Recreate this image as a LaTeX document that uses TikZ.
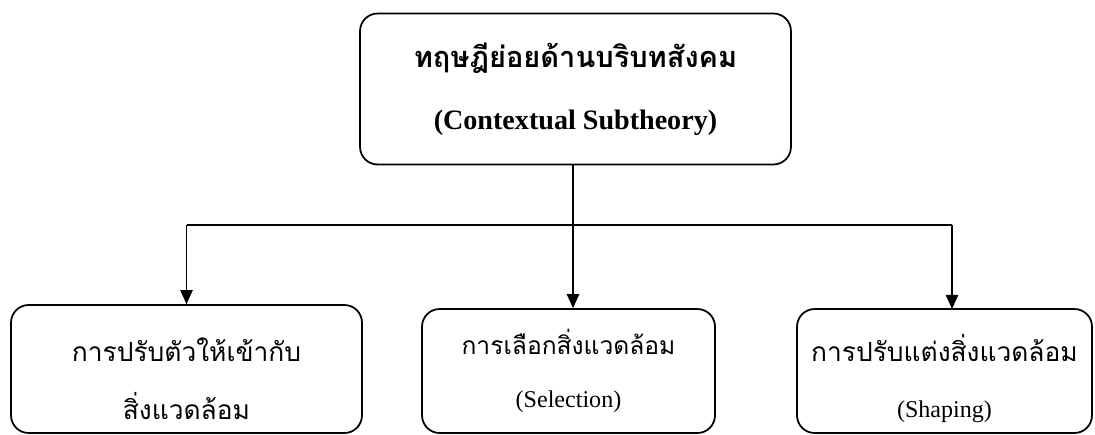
\documentclass[tikz,border=0pt]{standalone}
\usepackage{fontspec}
\setmainfont{Liberation Serif}
\newfontfamily\thaifont[Script=Thai]{Loma}
\usetikzlibrary{arrows.meta}
\tikzset{
  box/.style={draw, line width=1pt, rounded corners=10pt, align=center, inner sep=0pt},
  link/.style={line width=0.9pt, -{Triangle[width=7pt,length=8pt]}},
  bus/.style={line width=0.9pt}
}
\begin{document}
\begin{tikzpicture}[x=0.02cm,y=-0.02cm]
\useasboundingbox (0,0) rectangle (1095,434);
% theory box
\node[box, minimum width=8.62cm, minimum height=3.02cm,
  font=\fontsize{16}{35}\selectfont\bfseries] (theory) at (575.5,89)
  {{\thaifont\fontsize{16.5}{35}\selectfont\bfseries ทฤษฎีย่อยด้านบริบทสังคม}\\(Contextual Subtheory)};
% three parts
\node[box, minimum width=7.02cm, minimum height=2.56cm,
  font=\thaifont\fontsize{15}{33}\selectfont] (adapt) at (186.5,369)
  {\rule{0pt}{24pt}การปรับตัวให้เข้ากับ\\สิ่งแวดล้อม};
\node[box, minimum width=5.86cm, minimum height=2.48cm,
  font=\fontsize{13.7}{30}\selectfont] (select) at (568.5,371)
  {{\thaifont\fontsize{14}{30}\selectfont การเลือกสิ่งแวดล้อม}\\(Selection)};
\node[box, minimum width=5.9cm, minimum height=2.48cm,
  font=\fontsize{13.7}{32}\selectfont] (shape) at (944.5,371)
  {{\thaifont\fontsize{15}{32}\selectfont\rule{0pt}{24pt}การปรับแต่งสิ่งแวดล้อม}\\(Shaping)};
\coordinate (split) at (573,225);
\draw[bus] (theory.south -| split) -- (split);
\draw[bus] (adapt.north |- split) -- (952,225);
\draw[link] (adapt.north |- split) -- (adapt.north);
\draw[link] (split) -- (split |- select.north);
\draw[link] (952,225) -- (952,309);
\end{tikzpicture}
\end{document}
